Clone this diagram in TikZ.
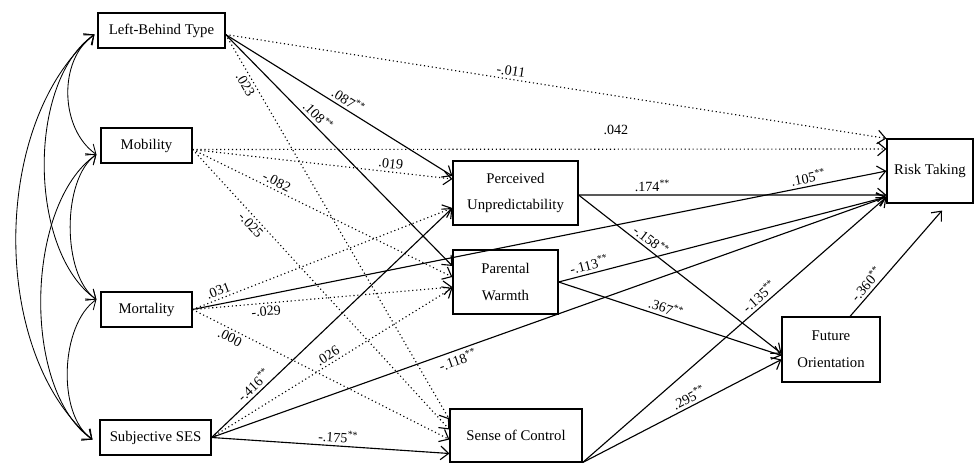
\documentclass[tikz,border=0pt]{standalone}
\usepackage{fontspec}
\setmainfont{Liberation Serif}
\usetikzlibrary{arrows.meta}

\begin{document}
\begin{tikzpicture}[
	x=0.025cm,y=0.025cm,
	varbox/.style={draw,rectangle,line width=0.8pt,align=center,inner sep=1pt,font=\fontsize{10.5}{19}\selectfont},
	sig/.style={line width=0.8pt,-{Straight Barb[length=2mm,width=3.4mm]}},
	nsig/.style={sig,dotted},
	cov/.style={line width=0.6pt,{Straight Barb[length=2mm,width=3.4mm]}-{Straight Barb[length=2mm,width=3.4mm]}},
	coef/.style={font=\fontsize{10}{12}\selectfont,sloped,inner sep=2pt}
	]
	\useasboundingbox (0,0) rectangle (974,-464);
	
	% Predictors
	\node[varbox,minimum width=3.175cm,minimum height=0.875cm] (lb) at (161.5,-30.5) {Left-Behind Type};
	\node[varbox,minimum width=2.275cm,minimum height=0.875cm] (mb) at (146.5,-145.5) {Mobility};
	\node[varbox,minimum width=2.275cm,minimum height=0.875cm] (mt) at (146.5,-309.5) {Mortality};
	\node[varbox,minimum width=2.775cm,minimum height=0.875cm] (ses) at (155.5,-437.5) {Subjective SES};
	
	% Mediators
	\node[varbox,minimum width=3.125cm,minimum height=1.6cm] (pu) at (515.5,-193) {Perceived\\Unpredictability};
	\node[varbox,minimum width=2.625cm,minimum height=1.6cm] (pw) at (505.5,-282) {Parental\\Warmth};
	\node[varbox,minimum width=3.3cm,minimum height=1.325cm] (sc) at (516,-435.5) {Sense of Control};
	\node[varbox,minimum width=2.45cm,minimum height=1.625cm] (fo) at (831,-349.5) {Future\\Orientation};
	
	% Outcome
	\node[varbox,minimum width=2.15cm,minimum height=1.6cm] (rt) at (930,-171) {Risk Taking};
	
	% Covariances
	\coordinate (lbc) at ([shift={(-0.075cm,-0.1cm)}]lb.west);
	\coordinate (mbc) at ([shift={(-0.1cm,-0.225cm)}]mb.west);
	\coordinate (mtc) at ([shift={(-0.1cm,0.25cm)}]mt.west);
	\coordinate (sesc) at ([shift={(-0.175cm,-0.05cm)}]ses.west);
	\draw[cov] (lbc) to[out=215,in=145,looseness=.95] (mbc);
	\draw[cov] (lbc) to[out=215,in=145,looseness=.8] (mtc);
	\draw[cov] (lbc) to[out=220,in=140,looseness=.85] (sesc);
	\draw[cov] (mbc) to[out=215,in=145,looseness=.75] (mtc);
	\draw[cov] (mbc) to[out=215,in=145,looseness=.78] (sesc);
	\draw[cov] (mtc) to[out=215,in=145,looseness=.8] (sesc);
	
	% Left-Behind Type
	\draw[nsig] ([yshift=-0.1cm]lb.east) -- (rt.north west) node[coef,above,pos=.43] {-.011};
	\draw[sig] ([yshift=-0.1cm]lb.east) -- ([yshift=0.425cm]pu.west) node[coef,above,pos=.52] {.087\textsuperscript{**}};
	\draw[sig] ([yshift=-0.1cm]lb.east) -- ([yshift=0.4cm]pw.west) node[coef,above,pos=.38] {.108\textsuperscript{**}};
	\draw[nsig] ([yshift=-0.1cm]lb.east) -- ([yshift=0.4cm]sc.west) node[coef,below,pos=.12] {.023};
	
	% Mobility
	\draw[nsig] ([yshift=-0.1cm]mb.east) -- ([yshift=0.55cm]rt.west) node[coef,above=8pt,pos=.61] {.042};
	\draw[nsig] ([yshift=-0.1cm]mb.east) -- ([yshift=0.35cm]pu.west) node[coef,above,pos=.76] {.019};
	\draw[nsig] ([yshift=-0.1cm]mb.east) -- ([yshift=0.125cm]pw.west) node[coef,above,pos=.31] {-.082};
	\draw[nsig] ([yshift=-0.1cm]mb.east) -- ([yshift=0.15cm]sc.west) node[coef,below,pos=.25] {-.025};
	
	% Mortality
	\draw[sig] (mt.east) -- (rt.west) node[coef,above,pos=.89] {.105\textsuperscript{**}};
	\draw[nsig] (mt.east) -- ([yshift=-0.375cm]pu.west) node[coef,above,pos=.11] {.031};
	\draw[nsig] (mt.east) -- ([yshift=-0.125cm]pw.west) node[coef,below,pos=.28] {-.029};
	\draw[nsig] (mt.east) -- ([yshift=-0.1cm]sc.west) node[coef,below,pos=.16] {.000};
	
	% Subjective SES
	\draw[sig] (ses.east) -- ([yshift=-0.375cm]pu.west) node[coef,above,pos=.2] {-.416\textsuperscript{**}};
	\draw[nsig] (ses.east) -- ([yshift=-0.15cm]pw.west) node[coef,above,pos=.5] {.026};
	\draw[sig] (ses.east) -- ([yshift=-0.65cm]rt.west) node[coef,below,pos=.36] {-.118\textsuperscript{**}};
	\draw[sig] (ses.east) -- ([yshift=-0.45cm]sc.west) node[coef,above,pos=.53] {-.175\textsuperscript{**}};
	
	% Mediators to outcomes
	\draw[sig] ([yshift=-0.05cm]pu.east) -- ([yshift=-0.6cm]rt.west) node[coef,above,pos=.24] {.174\textsuperscript{**}};
	\draw[sig] ([yshift=-0.05cm]pu.east) -- ([yshift=-0.1cm]fo.west) node[coef,above,pos=.33] {-.158\textsuperscript{**}};
	\draw[sig] (pw.east) -- ([yshift=-0.65cm]rt.west) node[coef,above,pos=.1] {-.113\textsuperscript{**}};
	\draw[sig] (pw.east) -- ([yshift=-0.15cm]fo.west) node[coef,above,pos=.47] {.367\textsuperscript{**}};
	\draw[sig] (sc.south east) -- ([yshift=-0.65cm]rt.west) node[coef,above,pos=.6] {-.135\textsuperscript{**}};
	\draw[sig] (sc.south east) -- ([yshift=-0.25cm]fo.west) node[coef,above,pos=.555] {.295\textsuperscript{**}};
	\draw[sig] ([xshift=0.475cm]fo.north) -- ([shift={(0.3cm,-0.175cm)}]rt.south) node[coef,above,pos=.25] {-.360\textsuperscript{**}};
	
\end{tikzpicture}
\end{document}
